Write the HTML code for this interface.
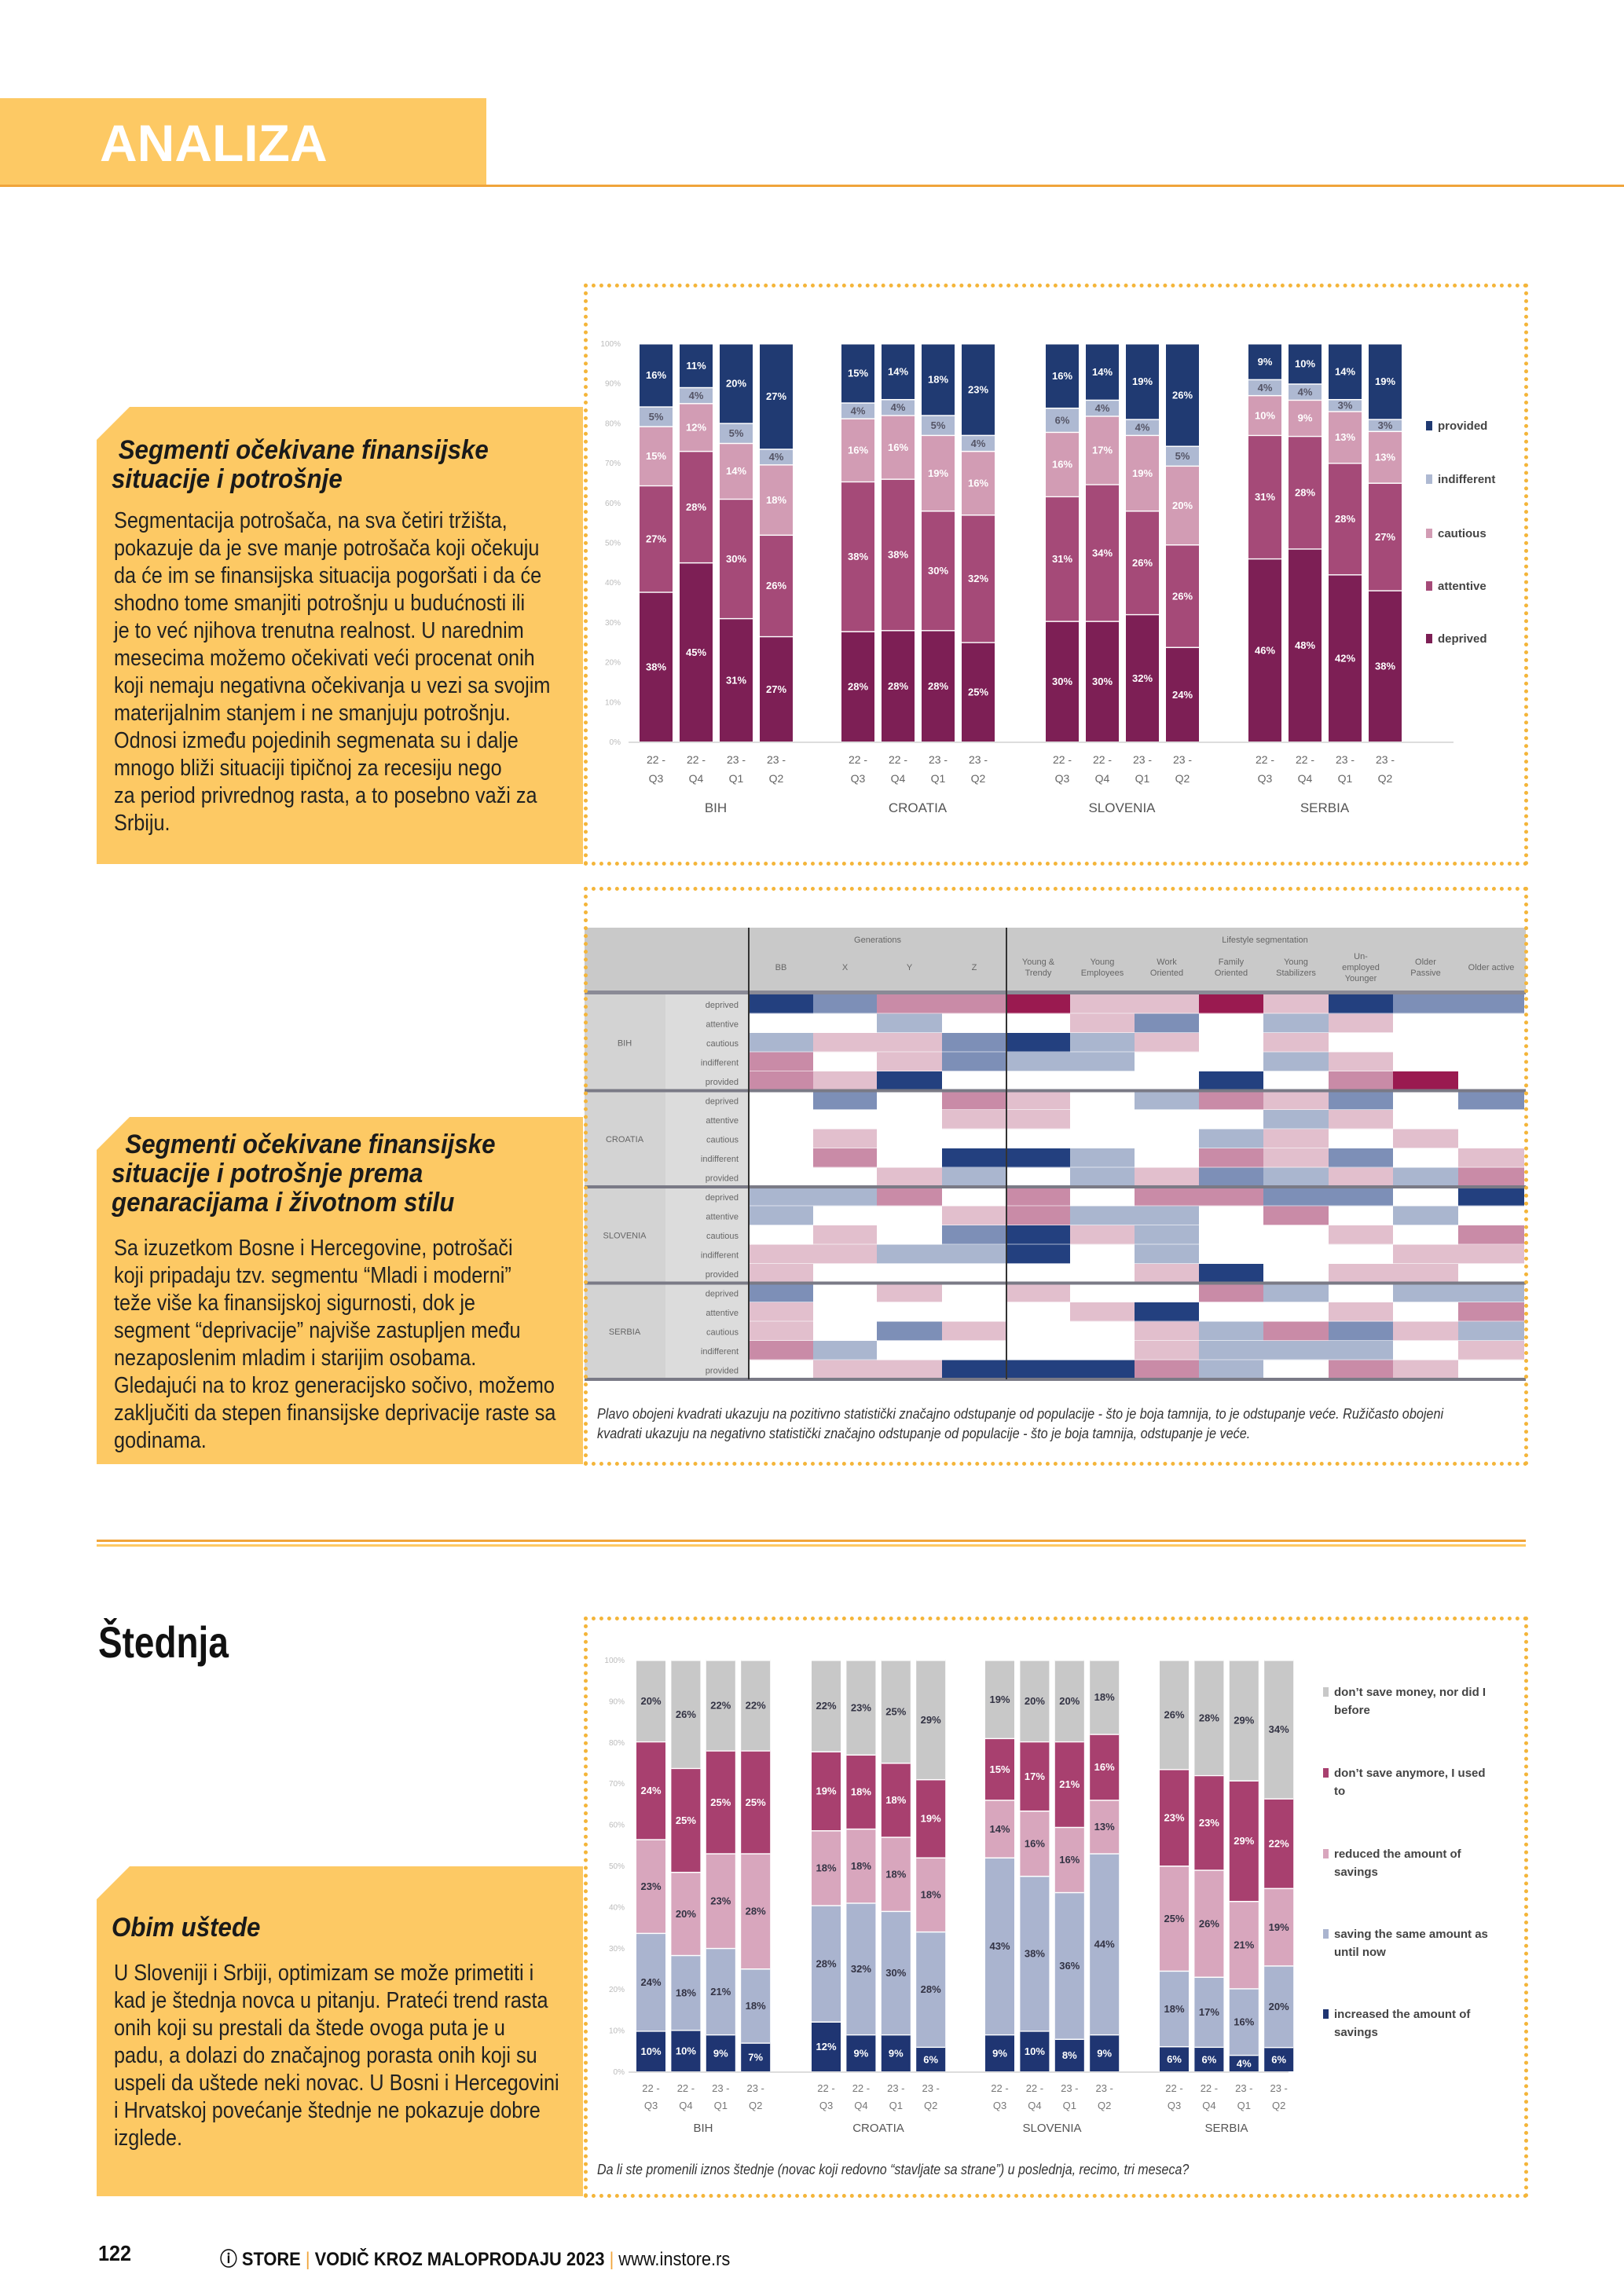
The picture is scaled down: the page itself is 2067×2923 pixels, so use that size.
<!DOCTYPE html>
<html><head><meta charset="utf-8">
<style>
html,body{margin:0;padding:0;background:#fff;}
body{width:2067px;height:2923px;position:relative;overflow:hidden;font-family:"Liberation Sans",sans-serif;}
.abs{position:absolute;}
.txt{position:absolute;left:145px;color:#222;font-size:29px;line-height:35px;white-space:nowrap;transform:scaleX(0.87);transform-origin:0 0;}
.ttl{position:absolute;left:142px;color:#1a1a1a;font-size:34px;line-height:37px;font-weight:bold;font-style:italic;white-space:nowrap;transform:scaleX(0.92);transform-origin:0 0;}
.dot{position:absolute;border:5px dotted #f4b53a;box-sizing:border-box;}
svg text{font-family:"Liberation Sans",sans-serif;}
</style></head><body>
<div class="abs" style="left:0;top:125px;width:619px;height:110px;background:#fdc964;"></div>
<div class="abs" style="left:0;top:235px;width:2067px;height:3px;background:#f0a43a;"></div>
<div class="abs" style="left:127px;top:145px;font-family:'Liberation Sans',sans-serif;font-weight:bold;font-size:66px;color:#fff;line-height:75px;">ANALIZA</div>

<svg class="abs" style="left:0;top:0" width="2067" height="2923">
<polygon points="165,518 742,518 742,1100 123,1100 123,560" fill="#fdc964"/>
<polygon points="165,1422 742,1422 742,1864 123,1864 123,1464" fill="#fdc964"/>
<polygon points="165,2376 742,2376 742,2796 123,2796 123,2418" fill="#fdc964"/>
<rect x="123" y="1960" width="1819" height="3" fill="#f0a43a"/>
<rect x="123" y="1966" width="1819" height="3" fill="#fdc964"/>
<g id="g"></g>
</svg>

<div class="dot" style="left:743px;top:361px;width:1202px;height:741px;"></div>
<div class="dot" style="left:743px;top:1129px;width:1202px;height:737px;"></div>
<div class="dot" style="left:743px;top:2058px;width:1202px;height:740px;"></div>

<div class="ttl" style="top:555px;">&nbsp;Segmenti očekivane finansijske<br>situacije i potrošnje</div>
<div class="txt" style="top:646px;">Segmentacija potrošača, na sva četiri tržišta,<br>pokazuje da je sve manje potrošača koji očekuju<br>da će im se finansijska situacija pogoršati i da će<br>shodno tome smanjiti potrošnju u budućnosti ili<br>je to već njihova trenutna realnost. U narednim<br>mesecima možemo očekivati veći procenat onih<br>koji nemaju negativna očekivanja u vezi sa svojim<br>materijalnim stanjem i ne smanjuju potrošnju.<br>Odnosi između pojedinih segmenata su i dalje<br>mnogo bliži situaciji tipičnoj za recesiju nego<br>za period privrednog rasta, a to posebno važi za<br>Srbiju.</div>

<div class="ttl" style="top:1439px;">&nbsp;&nbsp;Segmenti očekivane finansijske<br>situacije i potrošnje prema<br>genaracijama i životnom stilu</div>
<div class="txt" style="top:1572px;">Sa izuzetkom Bosne i Hercegovine, potrošači<br>koji pripadaju tzv. segmentu “Mladi i moderni”<br>teže više ka finansijskoj sigurnosti, dok je<br>segment “deprivacije” najviše zastupljen među<br>nezaposlenim mladim i starijim osobama.<br>Gledajući na to kroz generacijsko sočivo, možemo<br>zaključiti da stepen finansijske deprivacije raste sa<br>godinama.</div>

<div class="abs" style="left:125px;top:2058px;font-weight:bold;font-size:56px;color:#111;transform:scaleX(0.82);transform-origin:0 0;">Štednja</div>
<div class="ttl" style="top:2436px;">Obim uštede</div>
<div class="txt" style="top:2495px;">U Sloveniji i Srbiji, optimizam se može primetiti i<br>kad je štednja novca u pitanju. Prateći trend rasta<br>onih koji su prestali da štede ovoga puta je u<br>padu, a dolazi do značajnog porasta onih koji su<br>uspeli da uštede neki novac. U Bosni i Hercegovini<br>i Hrvatskoj povećanje štednje ne pokazuje dobre<br>izglede.</div>

<div class="abs" style="left:760px;top:1788px;font-size:18px;line-height:25px;font-style:italic;color:#333;white-space:nowrap;transform:scaleX(0.9);transform-origin:0 0;">Plavo obojeni kvadrati ukazuju na pozitivno statistički značajno odstupanje od populacije - što je boja tamnija, to je odstupanje veće. Ružičasto obojeni<br>kvadrati ukazuju na negativno statistički značajno odstupanje od populacije - što je boja tamnija, odstupanje je veće.</div>
<div class="abs" style="left:760px;top:2750px;font-size:18px;line-height:25px;font-style:italic;color:#333;white-space:nowrap;transform:scaleX(0.89);transform-origin:0 0;">Da li ste promenili iznos štednje (novac koji redovno “stavljate sa strane”) u poslednja, recimo, tri meseca?</div>

<div class="abs" style="left:125px;top:2853px;font-weight:bold;font-size:28px;color:#111;transform:scaleX(0.9);transform-origin:0 0;">122</div>
<div class="abs" style="left:280px;top:2856px;font-size:24px;color:#111;white-space:nowrap;transform:scaleX(0.91);transform-origin:0 0;"><b>ⓘ STORE</b> <span style="color:#f0a43a">|</span> <b>VODIČ KROZ MALOPRODAJU 2023</b> <span style="color:#f0a43a">|</span> www.instore.rs</div>

<script>
var g=document.getElementById('g'),s='';
function R(x,y,w,h,c){s+='<rect x="'+x+'" y="'+y+'" width="'+w+'" height="'+h+'" fill="'+c+'"/>';}
function T(x,y,t,sz,c,a,w){s+='<text x="'+x+'" y="'+y+'" font-size="'+sz+'" fill="'+c+'" text-anchor="'+(a||'middle')+'"'+(w?' font-weight="bold"':'')+'>'+t+'</text>';}
var q=[['22 -','Q3'],['22 -','Q4'],['23 -','Q1'],['23 -','Q2']],cn=['BIH','CROATIA','SLOVENIA','SERBIA'];
var top1=437,bot1=944,H1=bot1-top1;
var c1=['#7d1f55','#a54a78','#d29cb4','#aeb9d2','#203a72'];
var d1=[[[38,27,15,5,16],[45,28,12,4,11],[31,30,14,5,20],[27,26,18,4,27]],
[[28,38,16,4,15],[28,38,16,4,14],[28,30,19,5,18],[25,32,16,4,23]],
[[30,31,16,6,16],[30,34,17,4,14],[32,26,19,4,19],[24,26,20,5,26]],
[[46,31,10,4,9],[48,28,9,4,10],[42,28,13,3,14],[38,27,13,3,19]]];
var gx1=[814,1071,1331,1589];
for(var i=0;i<=10;i++){T(790,bot1-i*H1/10+4,(i*10)+'%',10,'#bbb','end');}
R(800,bot1,1050,2,'#ddd');
for(var k=0;k<4;k++){for(var j=0;j<4;j++){var d=d1[k][j],sum=d.reduce(function(a,b){return a+b},0),x=gx1[k]+j*51,y=bot1;
for(var m=0;m<5;m++){var h=d[m]/sum*H1;R(x,y-h,42,h,c1[m]);R(x,y-h,42,1.5,'#fff');T(x+21,y-h/2+5,d[m]+'%',13,m==3?'#556':'#fff','middle',1);y-=h;}
T(x+21,972,q[j][0],14,'#666');T(x+21,996,q[j][1],14,'#666');}
T(gx1[k]+97,1034,cn[k],17,'#555','middle',0);}
var l1=['provided','indifferent','cautious','attentive','deprived'],ly1=[547,615,684,751,818];
for(var i=0;i<5;i++){R(1815,ly1[i]-11,8,12,c1[4-i]);T(1830,ly1[i],l1[i],15,'#444','start',1);}
var X0=744,Y0=1181;
R(X0,Y0,1198,83,'#c9c9c9');R(X0,1261,1198,5,'#8a8a96');
var colx=[953,1035,1116,1199,1281,1362,1444,1526,1608,1691,1773,1856,1940];
T(1117,1200,'Generations',11,'#666');T(1610,1200,'Lifestyle segmentation',11,'#666');
var hl=[['BB'],['X'],['Y'],['Z'],['Young &','Trendy'],['Young','Employees'],['Work','Oriented'],['Family','Oriented'],['Young','Stabilizers'],['Un-','employed','Younger'],['Older','Passive'],['Older active']];
for(var i=0;i<12;i++){var cx=(colx[i]+colx[i+1])/2,L=hl[i];for(var n=0;n<L.length;n++)T(cx,1235+(n-(L.length-1)/2)*14,L[n],11,'#666');}
var cc={'0':'#ffffff','D':'#23407f','B':'#7d8fb7','b':'#aab6cf','p':'#e2bfcd','P':'#c98ba7','R':'#9a1a50'};
var hm=['DBPPRppRpDBB','00b00pB0bp00','bppBDbp0p000','P0pBbb00bp00','PpD0000D0PR0',
'0B0Pp0bPpB0B','000pp000bp00','0p00000bp0p0','0P0DDb0PpB0p','00pb0bpBbpbP',
'bbP0P0PPBB0D','b00pPbb0P0b0','0p0BDpb00p0P','ppbbD0b000pp','p00000pD0pp0',
'B0p0p00Pb0bb','p0000pD00p0P','p0Bp00pbPBpb','Pb0000pbbb0p','0ppDDDPb0Pp0'];
var rl=['deprived','attentive','cautious','indifferent','provided'],rg=['BIH','CROATIA','SLOVENIA','SERBIA'];
var rh=24.5,ry=1266;
for(var r=0;r<20;r++){var y=ry+r*rh;R(847,y,106,rh,'#dcdcdc');T(940,y+17,rl[r%5],11,'#666','end');
for(var c=0;c<12;c++){R(colx[c],y,colx[c+1]-colx[c],rh,cc[hm[r][c]]);R(colx[c],y+rh-1,colx[c+1]-colx[c],1,'rgba(255,255,255,0.6)');}}
for(var k=0;k<4;k++){var y=ry+k*5*rh;R(X0,y,103,5*rh,'#d3d3d3');T(795,y+2.5*rh+4,rg[k],11,'#666');if(k>0)R(X0,y-2,1198,4,'#7a7a86');}
R(X0,ry+20*rh-2,1198,4,'#7a7a86');
R(952,Y0,2,ry+20*rh-Y0,'#333');R(1280,Y0,2,ry+20*rh-Y0,'#333');
var top3=2113,bot3=2637,H3=bot3-top3;
var c3=['#1f3572','#aab4cf','#d8a6bd','#a8406f','#c8c8c8'];
var d3=[[[10,24,23,24,20],[10,18,20,25,26],[9,21,23,25,22],[7,18,28,25,22]],
[[12,28,18,19,22],[9,32,18,18,23],[9,30,18,18,25],[6,28,18,19,29]],
[[9,43,14,15,19],[10,38,16,17,20],[8,36,16,21,20],[9,44,13,16,18]],
[[6,18,25,23,26],[6,17,26,23,28],[4,16,21,29,29],[6,20,19,22,34]]];
var gx3=[810,1033,1254,1476];
for(var i=0;i<=10;i++){T(795,bot3-i*H3/10+4,(i*10)+'%',10,'#bbb','end');}
R(800,bot3,840,2,'#ddd');
for(var k=0;k<4;k++){for(var j=0;j<4;j++){var d=d3[k][j],sum=d.reduce(function(a,b){return a+b},0),x=gx3[k]+j*44.4,y=bot3;
for(var m=0;m<5;m++){var h=d[m]/sum*H3;R(x,y-h,37,h,c3[m]);R(x,y-h,37,1.5,'#fff');T(x+18.5,y-h/2+5,d[m]+'%',13,(m==0||m==3)?'#fff':'#334','middle',1);y-=h;}
T(x+18.5,2663,q[j][0],13,'#777');T(x+18.5,2685,q[j][1],13,'#777');}
T(gx3[k]+85,2714,cn[k],15,'#555','middle',0);}
var l3=[['don\u2019t save money, nor did I','before'],['don\u2019t save anymore, I used','to'],['reduced the amount of','savings'],['saving the same amount as','until now'],['increased the amount of','savings']],ly3=[2159,2262,2365,2467,2569];
for(var i=0;i<5;i++){R(1684,ly3[i]-11,7,12,c3[4-i]);T(1698,ly3[i],l3[i][0],15,'#444','start',1);T(1698,ly3[i]+23,l3[i][1],15,'#444','start',1);}
g.innerHTML=s;
</script>
</body></html>
